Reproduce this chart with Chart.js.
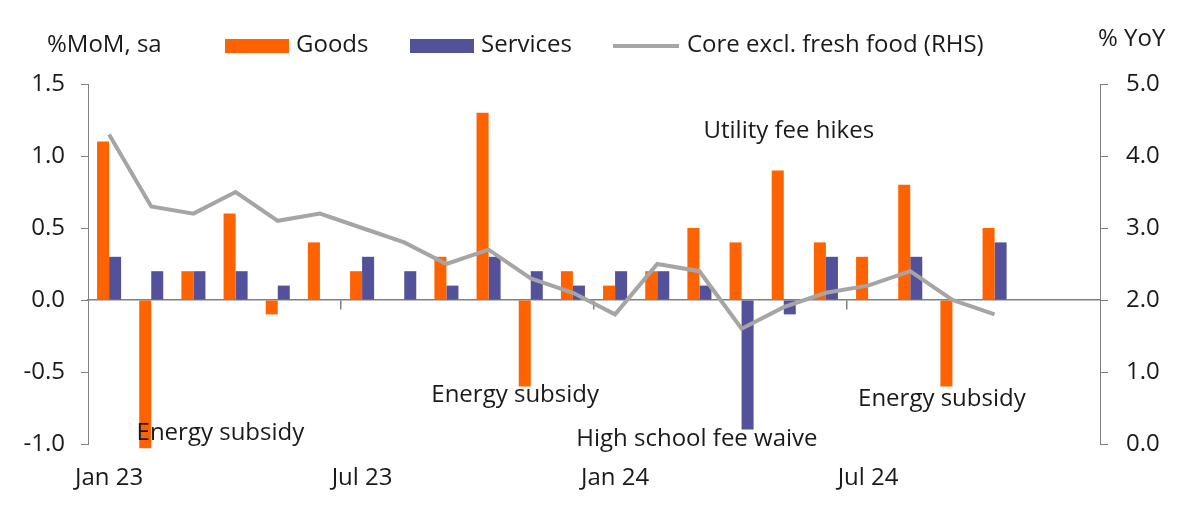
<!DOCTYPE html>
<html>
<head>
<meta charset="utf-8">
<script src="https://cdn.jsdelivr.net/npm/chart.js@4"></script>
<style>
  html, body { margin: 0; padding: 0; background: #fff; }
  #wrap { position: relative; width: 1190px; height: 512px; font-family: "Open Sans", sans-serif; color: #1a1a1a; }
  canvas { position: absolute; left: 0; top: 0; }
  .t { position: absolute; font-size: 24px; line-height: 28px; height: 28px; white-space: nowrap; }
  .box { position: absolute; width: 64px; height: 14px; }
  .ln { position: absolute; width: 66px; height: 4px; background: #A5A5A5; }
</style>
</head>
<body>
<div id="wrap">
  <canvas id="c" width="1190" height="512"></canvas>
  <div class="t" style="left:47px; top:29px;">%MoM, sa</div>
  <div class="box" style="left:225px; top:39px; background:#FF6200;"></div>
  <div class="t" style="left:296px; top:29px;">Goods</div>
  <div class="box" style="left:410px; top:39px; background:#525199;"></div>
  <div class="t" style="left:481px; top:29px;">Services</div>
  <div class="ln" style="left:613px; top:44px;"></div>
  <div class="t" style="left:687px; top:29px;">Core excl. fresh food (RHS)</div>
  <div class="t" style="left:1098px; top:23px;">% YoY</div>
</div>
<script>
// ---- Data ----
const months = ['Jan 23','Feb 23','Mar 23','Apr 23','May 23','Jun 23','Jul 23','Aug 23','Sep 23','Oct 23','Nov 23','Dec 23',
                'Jan 24','Feb 24','Mar 24','Apr 24','May 24','Jun 24','Jul 24','Aug 24','Sep 24','Oct 24','Nov 24','Dec 24'];
const shownTicks = ['Jan 23','Jul 23','Jan 24','Jul 24'];
const goods    = [1.1, -1.03, 0.2, 0.6, -0.1, 0.4, 0.2, 0, 0.3, 1.3, -0.6, 0.2, 0.1, 0.2, 0.5, 0.4, 0.9, 0.4, 0.3, 0.8, -0.6, 0.5, null, null];
const services = [0.3, 0.2, 0.2, 0.2, 0.1, 0, 0.3, 0.2, 0.1, 0.3, 0.2, 0.1, 0.2, 0.2, 0.1, -0.9, -0.1, 0.3, 0, 0.3, 0, 0.4, null, null];
const coreYoY  = [4.3, 3.3, 3.2, 3.5, 3.1, 3.2, 3.0, 2.8, 2.5, 2.7, 2.3, 2.1, 1.8, 2.5, 2.4, 1.6, 1.9, 2.1, 2.2, 2.4, 2.0, 1.8, null, null];
const leftTicks  = [-1.0, -0.5, 0.0, 0.5, 1.0, 1.5];
const rightTicks = [0, 1, 2, 3, 4, 5];
// annotation texts anchored to category position and left-axis value (baseline)
const noteTexts = ['Energy subsidy', 'Energy subsidy', 'High school fee waive', 'Utility fee hikes', 'Energy subsidy'];
const noteCats  = [2.64, 9.63, 13.94, 16.12, 19.75];
const noteVals  = [-0.972, -0.708, -1.014, 1.125, -0.736];

const FONT = '"Open Sans", sans-serif';
const GRAY = '#808080';
const TXT = '#1a1a1a';

const notesPlugin = {
  id: 'notes',
  afterDatasetsDraw(chart) {
    const ctx = chart.ctx, xs = chart.scales.x, ys = chart.scales.y;
    ctx.save();
    ctx.font = '24px ' + FONT;
    ctx.fillStyle = TXT;
    ctx.textAlign = 'center';
    ctx.textBaseline = 'alphabetic';
    noteTexts.forEach((t, i) => {
      ctx.fillText(t, xs.getPixelForValue(noteCats[i]), ys.getPixelForValue(noteVals[i]));
    });
    ctx.restore();
  }
};

new Chart(document.getElementById('c'), {
  data: {
    labels: months,
    datasets: [
      { type: 'line', label: 'Core excl. fresh food (RHS)', data: coreYoY, yAxisID: 'y2',
        borderColor: '#A5A5A5', borderWidth: 4, pointRadius: 0, tension: 0, order: 0, spanGaps: false },
      { type: 'bar', label: 'Goods', data: goods, yAxisID: 'y', backgroundColor: '#FF6200',
        categoryPercentage: 0.57, barPercentage: 1.0, order: 1, clip: false },
      { type: 'bar', label: 'Services', data: services, yAxisID: 'y', backgroundColor: '#525199',
        categoryPercentage: 0.57, barPercentage: 1.0, order: 1 }
    ]
  },
  options: {
    responsive: false,
    animation: false,
    devicePixelRatio: 1,
    layout: { padding: { top: 84, left: 0, right: 0, bottom: 0 } },
    plugins: { legend: { display: false }, tooltip: { enabled: false } },
    scales: {
      x: {
        type: 'category', position: 'bottom', offset: true,
        grid: { display: false, drawTicks: false },
        border: { display: false },
        ticks: {
          autoSkip: false, maxRotation: 0, padding: 20, color: TXT,
          font: { family: FONT, size: 24 },
          callback: function (v, i) { const l = months[i]; return shownTicks.includes(l) ? l : ''; }
        },
        afterFit: s => { s.height = 68; }
      },
      x2: {
        type: 'category', position: { y: 0 }, offset: true,
        grid: {
          offset: true, drawOnChartArea: false, drawTicks: true, tickLength: 9, lineWidth: 1.5,
          color: c => (c.index > 0 && c.index < months.length && c.index % 6 === 0) ? GRAY : 'rgba(0,0,0,0)'
        },
        border: { display: true, color: GRAY, width: 1.5 },
        ticks: { display: false, autoSkip: false },
        afterFit: s => { s.height = 0; }
      },
      y: {
        position: 'left', min: -1.0, max: 1.5,
        afterBuildTicks: s => { s.ticks = leftTicks.map(v => ({ value: v })); },
        grid: { drawOnChartArea: false, drawTicks: true, tickLength: 7, color: GRAY },
        border: { display: true, color: GRAY, width: 1 },
        ticks: { padding: 16, color: TXT, font: { family: FONT, size: 24 }, callback: v => Number(v).toFixed(1) },
        afterFit: s => { s.width = 88; }
      },
      y2: {
        position: 'right', min: 0, max: 5,
        afterBuildTicks: s => { s.ticks = rightTicks.map(v => ({ value: v })); },
        grid: { drawOnChartArea: false, drawTicks: true, tickLength: 8, color: GRAY },
        border: { display: true, color: GRAY, width: 1 },
        ticks: { padding: 18, color: TXT, font: { family: FONT, size: 24 }, callback: v => Number(v).toFixed(1) },
        afterFit: s => { s.width = 90; }
      }
    }
  },
  plugins: [notesPlugin]
});
</script>
</body>
</html>
